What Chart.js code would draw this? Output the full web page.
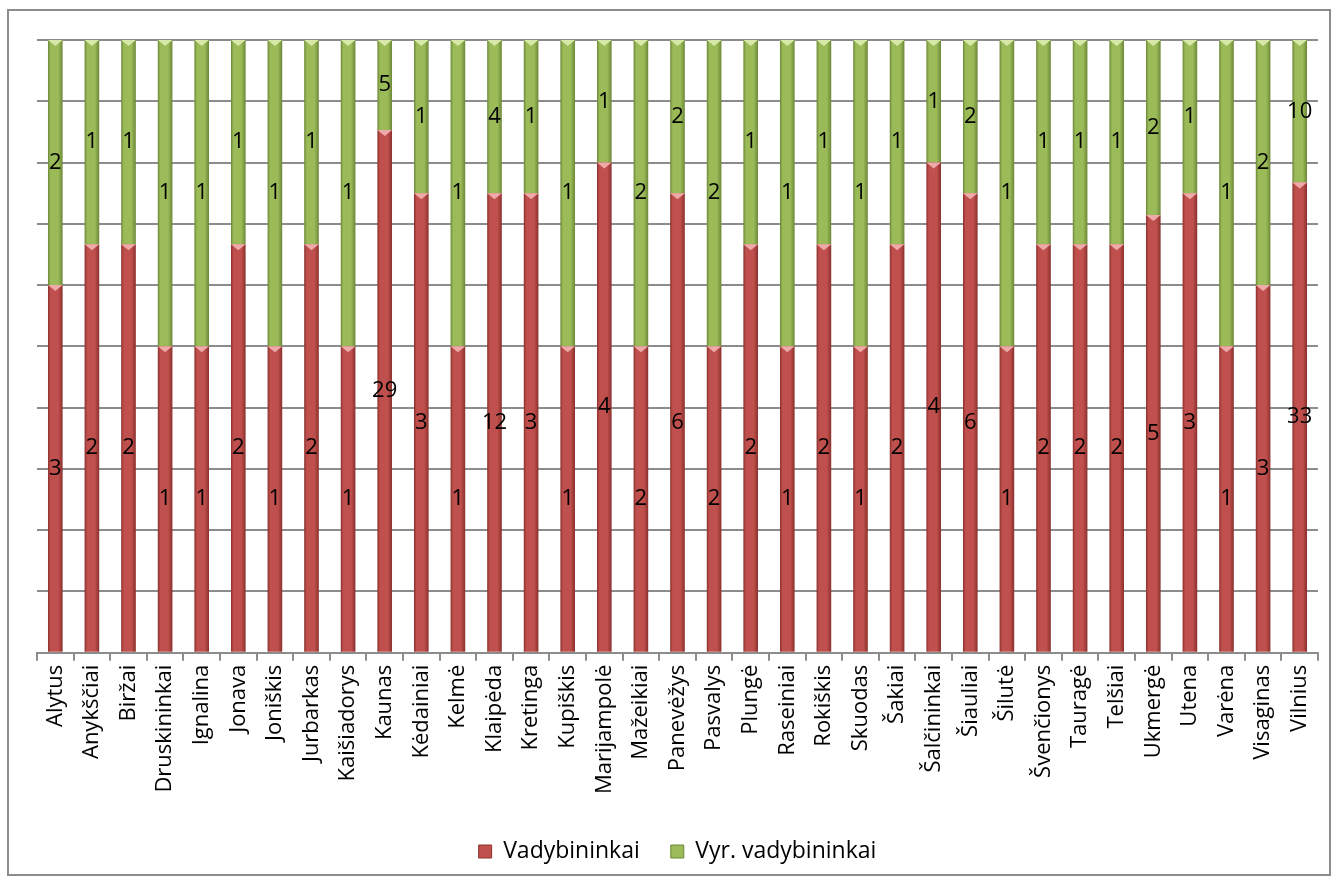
<!DOCTYPE html>
<html>
<head>
<meta charset="utf-8">
<script src="https://cdn.jsdelivr.net/npm/chart.js@4"></script>
<style>
  html, body { margin: 0; padding: 0; background: #fff; }
  #wrap { position: relative; width: 1338px; height: 883px; }
</style>
</head>
<body>
<div id="wrap"><canvas id="chart" width="1338" height="883"></canvas></div>
<script>
const cities = ['Alytus', 'Anykščiai', 'Biržai', 'Druskininkai', 'Ignalina', 'Jonava', 'Joniškis', 'Jurbarkas',
    'Kaišiadorys', 'Kaunas', 'Kėdainiai', 'Kelmė', 'Klaipėda', 'Kretinga', 'Kupiškis', 'Marijampolė', 'Mažeikiai',
    'Panevėžys', 'Pasvalys', 'Plungė', 'Raseiniai', 'Rokiškis', 'Skuodas', 'Šakiai', 'Šalčininkai', 'Šiauliai',
    'Šilutė', 'Švenčionys', 'Tauragė', 'Telšiai', 'Ukmergė', 'Utena', 'Varėna', 'Visaginas', 'Vilnius'];
const managers = [3, 2, 2, 1, 1, 2, 1, 2, 1, 29, 3, 1, 12, 3, 1, 4, 2, 6, 2, 2, 1, 2, 1, 2, 4, 6, 1, 2, 2, 2, 5, 3, 1, 3, 33];
const seniorManagers = [2, 1, 1, 1, 1, 1, 1, 1, 1, 5, 1, 1, 4, 1, 1, 1, 2, 2, 2, 1, 1, 1, 1, 1, 1, 2, 1, 1, 1, 1, 2, 1, 1, 2, 10];

// share of each group in the city total (100% stacked)
const totals = managers.map((v, i) => v + seniorManagers[i]);
const pct = arr => arr.map((v, i) => v / totals[i] * 100);

const BAR_PCT = 0.4;
const FONT = '"Open Sans", sans-serif';
const COLORS = [
    { base: '#c0504d', dark: '#8a302d', notch: '#eeaaa8' },
    { base: '#9bbb59', dark: '#6c8738', notch: '#d7e8a8' }
];

// bar fill with darker sides, like a rounded column
function barFill(col) {
    return function (ctx) {
        const chart = ctx.chart;
        const x = chart.scales.x;
        if (!x || ctx.type !== 'data') return col.base;
        const cx = x.getPixelForValue(ctx.dataIndex);
        const w = (x.width / cities.length) * BAR_PCT;
        if (!isFinite(cx) || !isFinite(w) || w <= 0) return col.base;
        const g = chart.ctx.createLinearGradient(cx - w / 2, 0, cx + w / 2, 0);
        g.addColorStop(0, col.dark);
        g.addColorStop(0.18, col.base);
        g.addColorStop(0.7, col.base);
        g.addColorStop(1, col.dark);
        return g;
    };
}

const frame = {
    id: 'frame',
    beforeDraw(chart) {
        const c = chart.ctx;
        c.save();
        c.strokeStyle = '#8c8c8c';
        c.lineWidth = 2;
        c.strokeRect(8, 10, 1322, 865);
        c.restore();
    }
};

// light bevel notch at the top of every segment, then the value label in its middle
const segmentLabels = {
    id: 'segmentLabels',
    afterDatasetsDraw(chart) {
        const c = chart.ctx;
        c.save();
        chart.data.datasets.forEach((ds, di) => {
            c.fillStyle = COLORS[di].notch;
            chart.getDatasetMeta(di).data.forEach(bar => {
                const hw = bar.width / 2;
                c.beginPath();
                c.moveTo(bar.x - hw, bar.y);
                c.lineTo(bar.x + hw, bar.y);
                c.lineTo(bar.x, bar.y + 6);
                c.closePath();
                c.fill();
            });
        });
        c.font = '22px ' + FONT;
        c.fillStyle = '#000';
        c.textAlign = 'center';
        c.textBaseline = 'middle';
        chart.data.datasets.forEach((ds, di) => {
            chart.getDatasetMeta(di).data.forEach((bar, i) => {
                const mid = (bar.y + bar.base) / 2;
                c.fillText(String(ds.raw[i]), bar.x, mid);
            });
        });
        c.restore();
    }
};

new Chart(document.getElementById('chart'), {
    type: 'bar',
    data: {
        labels: cities,
        datasets: [{
            label: 'Vadybininkai',
            raw: managers,
            data: pct(managers),
            backgroundColor: barFill(COLORS[0]),
            borderWidth: 0,
            barPercentage: BAR_PCT,
            categoryPercentage: 1
        }, {
            label: 'Vyr. vadybininkai',
            raw: seniorManagers,
            data: pct(seniorManagers),
            backgroundColor: barFill(COLORS[1]),
            borderWidth: 0,
            barPercentage: BAR_PCT,
            categoryPercentage: 1
        }]
    },
    options: {
        responsive: false,
        animation: false,
        layout: { padding: { left: 37, right: 20, top: 40, bottom: 10 } },
        plugins: {
            legend: {
                position: 'bottom',
                labels: {
                    color: '#000',
                    font: { family: FONT, size: 23 },
                    boxWidth: 13,
                    boxHeight: 13,
                    padding: 31,
                    generateLabels(chart) {
                        return chart.data.datasets.map((ds, i) => ({
                            text: ds.label,
                            fillStyle: COLORS[i].base,
                            strokeStyle: COLORS[i].dark,
                            lineWidth: 1,
                            fontColor: '#000',
                            hidden: false,
                            datasetIndex: i
                        }));
                    }
                }
            },
            tooltip: { enabled: false }
        },
        scales: {
            x: {
                stacked: true,
                grid: { drawOnChartArea: false, drawTicks: true, tickLength: 8, color: '#8c8c8c', lineWidth: 2 },
                border: { color: '#8c8c8c', width: 2 },
                ticks: {
                    color: '#000',
                    font: { family: FONT, size: 22 },
                    maxRotation: 90,
                    minRotation: 90,
                    autoSkip: false,
                    padding: 4
                },
                afterFit(scale) {
                    // leave a little room between the city names and the legend
                    scale.height += 11;
                }
            },
            y: {
                stacked: true,
                min: 0,
                max: 100,
                ticks: { display: false, stepSize: 10 },
                grid: { color: '#8c8c8c', lineWidth: 2, drawTicks: false },
                border: { display: false }
            }
        }
    },
    plugins: [frame, segmentLabels]
});
</script>
</body>
</html>
